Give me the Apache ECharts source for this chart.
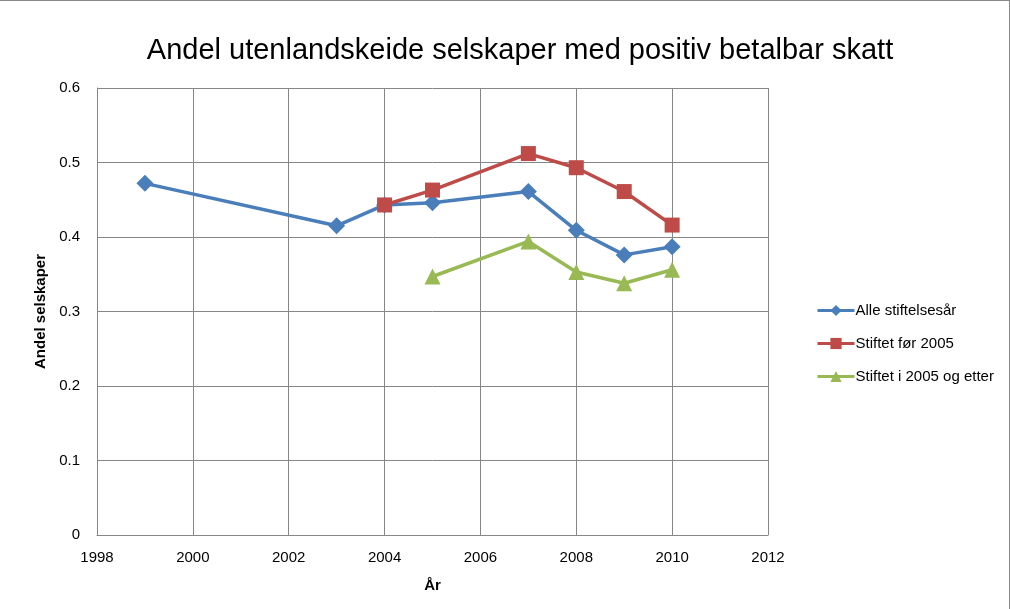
<!DOCTYPE html>
<html>
<head>
<meta charset="utf-8">
<script src="https://cdn.jsdelivr.net/npm/echarts@6/dist/echarts.min.js"></script>
<style>
  html, body { margin: 0; padding: 0; background: #fff; }
  #chart { width: 1010px; height: 609px; box-sizing: border-box; border: 1px solid #888; border-bottom: none; border-left: none; }
</style>
</head>
<body>
<div id="chart"></div>
<script>
// data
const years_all = [1999, 2003, 2004, 2005, 2007, 2008, 2009, 2010];
const alleStiftelsesar = [0.472, 0.415, 0.443, 0.446, 0.461, 0.409, 0.376, 0.387];
const years_for = [2004, 2005, 2007, 2008, 2009, 2010];
const stiftetFor2005 = [0.443, 0.463, 0.512, 0.493, 0.461, 0.416];
const years_etter = [2005, 2007, 2008, 2009, 2010];
const stiftetEtter2005 = [0.347, 0.394, 0.353, 0.338, 0.356];

const seriesNames = ["Alle stiftelsesår", "Stiftet før 2005", "Stiftet i 2005 og etter"];
const colors = ["#4a7ebb", "#be4b48", "#98b954"];

function pairs(xs, ys) {
  return xs.map((x, i) => [x, ys[i]]);
}

const fontFam = "Liberation Sans, Arial, sans-serif";
const chart = echarts.init(document.getElementById("chart"));

chart.setOption({
  animation: false,
  textStyle: { fontFamily: fontFam },
  title: {
    text: "Andel utenlandskeide selskaper med positiv betalbar skatt",
    left: 515,
    textAlign: "center",
    top: 30,
    textStyle: { fontSize: 29, fontWeight: "normal", color: "#000", fontFamily: fontFam }
  },
  grid: { left: 97, right: 241, top: 87, bottom: 74 },
  legend: {
    orient: "vertical",
    left: 811,
    top: 297,
    itemGap: 18,
    itemWidth: 37,
    itemHeight: 14,
    lineStyle: { width: 3 },
    textStyle: { fontSize: 15, color: "#000", padding: [0, 0, 0, -4] },
    data: seriesNames
  },
  xAxis: {
    type: "value",
    min: 1998,
    max: 2012,
    interval: 2,
    name: "År",
    nameLocation: "middle",
    nameGap: 43,
    nameTextStyle: { fontSize: 15, fontWeight: "bold", color: "#000" },
    axisLine: { show: true, lineStyle: { color: "#868686" } },
    axisTick: { show: false },
    axisLabel: { fontSize: 15, color: "#000", margin: 15, formatter: v => String(v) },
    splitLine: { show: true, lineStyle: { color: "#868686" } }
  },
  yAxis: {
    type: "value",
    min: 0,
    max: 0.6,
    interval: 0.1,
    name: "Andel selskaper",
    nameLocation: "middle",
    nameGap: 41,
    nameTextStyle: { fontSize: 15, fontWeight: "bold", color: "#000" },
    axisLine: { show: true, lineStyle: { color: "#868686" } },
    axisTick: { show: false },
    axisLabel: { fontSize: 15, color: "#000", margin: 17 },
    splitLine: { show: true, lineStyle: { color: "#868686" } }
  },
  series: [
    {
      name: seriesNames[0],
      type: "line",
      data: pairs(years_all, alleStiftelsesar),
      symbol: "diamond",
      symbolSize: 17,
      lineStyle: { width: 3.5, color: colors[0] },
      itemStyle: { color: colors[0] }
    },
    {
      name: seriesNames[1],
      type: "line",
      data: pairs(years_for, stiftetFor2005),
      symbol: "rect",
      symbolSize: 15,
      lineStyle: { width: 3.5, color: colors[1] },
      itemStyle: { color: colors[1] }
    },
    {
      name: seriesNames[2],
      type: "line",
      data: pairs(years_etter, stiftetEtter2005),
      symbol: "triangle",
      symbolSize: 16,
      lineStyle: { width: 3.5, color: colors[2] },
      itemStyle: { color: colors[2] }
    }
  ]
});
</script>
</body>
</html>
